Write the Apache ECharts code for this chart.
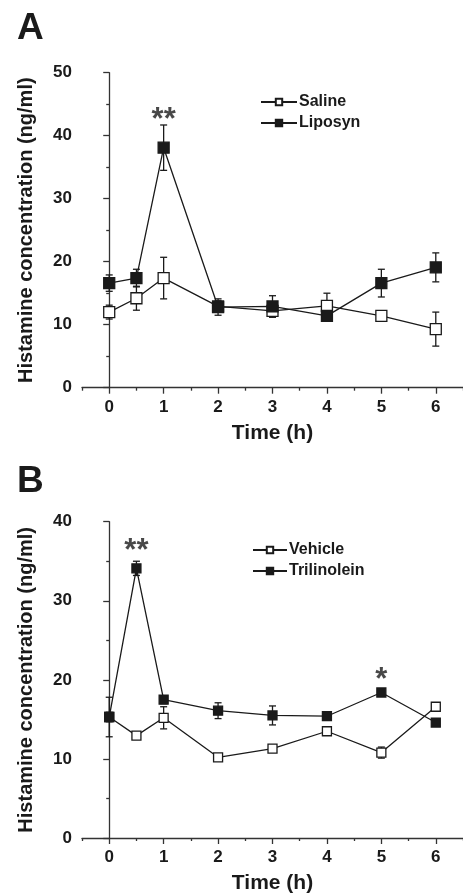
<!DOCTYPE html>
<html>
<head>
<meta charset="utf-8">
<script src="https://cdn.jsdelivr.net/npm/echarts@6/dist/echarts.min.js"></script>
<style>
  html, body { margin: 0; padding: 0; background: #fff; }
  #chart { width: 463px; height: 895px; }
</style>
</head>
<body>
<div id="chart"></div>
<script>
// time points (h)
const times = [0, 0.5, 1, 2, 3, 4, 5, 6]
const majorTicks = [0, 1, 2, 3, 4, 5, 6]
const minorTicks = [-0.5, 0.5, 1.5, 2.5, 3.5, 4.5, 5.5, 6.5]

// panel A
const salineMean = [12.0, 14.2, 17.4, 12.9, 12.2, 13.0, 11.4, 9.3]
const salineErr = [1.1, 1.9, 3.3, 0.9, 1.0, 2.0, 0.5, 2.7]
const liposynMean = [16.6, 17.4, 38.1, 12.8, 12.9, 11.4, 16.6, 19.1]
const liposynErr = [1.3, 1.4, 3.6, 1.3, 1.7, 0.6, 2.2, 2.3]

// panel B
const vehicleMean = [15.3, 12.95, 15.2, 10.2, 11.3, 13.5, 10.8, 16.6]
const vehicleErr = [2.5, 0.3, 1.4, 0.3, 0.3, 0.3, 0.7, 0.2]
const trilinoleinMean = [15.3, 34.1, 17.5, 16.1, 15.5, 15.4, 18.4, 14.6]
const trilinoleinErr = [0.6, 0.9, 0.5, 1.0, 1.2, 0.2, 0.3, 0.2]

// significance marks
const sigAX = [1]
const sigAY = [42.4]
const sigAText = ['**']
const sigBX = [0.5, 5]
const sigBY = [36.3, 19.9]
const sigBText = ['**', '*']

const FONT = '"Liberation Sans", Arial, sans-serif'
const INK = '#1a1a1a'

const pairs = (xs, ys) => xs.map((x, i) => [x, ys[i]])
const errData = (mean, err) => times.map((t, i) => [t, mean[i] - err[i], mean[i] + err[i]])

// 误差棒
const renderErr = (params, api) => {
  const x = api.value(0)
  const lo = api.coord([x, api.value(1)])
  const hi = api.coord([x, api.value(2)])
  const cap = 3.5
  const style = { stroke: INK, lineWidth: 1.3 }
  return {
    type: 'group',
    children: [
      { type: 'line', shape: { x1: lo[0], y1: lo[1], x2: hi[0], y2: hi[1] }, style },
      { type: 'line', shape: { x1: hi[0] - cap, y1: hi[1], x2: hi[0] + cap, y2: hi[1] }, style },
      { type: 'line', shape: { x1: lo[0] - cap, y1: lo[1], x2: lo[0] + cap, y2: lo[1] }, style }
    ]
  }
}

const errSeries = (idx, mean, err) => ({
  type: 'custom',
  xAxisIndex: idx * 2,
  yAxisIndex: idx,
  renderItem: renderErr,
  data: errData(mean, err),
  z: 1,
  silent: true
})

const lineSeries = (idx, name, mean, filled, size) => ({
  name,
  type: 'line',
  xAxisIndex: idx * 2,
  yAxisIndex: idx,
  data: pairs(times, mean),
  symbol: 'rect',
  symbolSize: size,
  showAllSymbol: true,
  lineStyle: { color: INK, width: 1.3 },
  itemStyle: { color: filled ? INK : '#fff', borderColor: INK, borderWidth: 1.3, opacity: 1 },
  z: filled ? 4 : 3,
  animation: false
})

const sigSeries = (idx, xs, ys, texts) => ({
  type: 'scatter',
  xAxisIndex: idx * 2,
  yAxisIndex: idx,
  symbolSize: 0,
  data: xs.map((x, i) => ({ value: [x, ys[i]], label: { formatter: texts[i] } })),
  label: { show: true, position: 'inside', color: INK, fontSize: 31, fontWeight: 'bold', fontFamily: FONT },
  silent: true
})

const grids = [
  { left: 82, top: 72.7, width: 392, height: 315 },
  { left: 82, top: 521.7, width: 392, height: 316.3 }
]

const xMain = (gi) => ({
  type: 'value',
  gridIndex: gi,
  min: -0.5,
  max: 6.5,
  name: 'Time (h)',
  nameLocation: 'middle',
  nameGap: 35,
  nameTextStyle: { color: INK, fontSize: 21, fontWeight: 'bold', fontFamily: FONT },
  axisLine: { show: true, lineStyle: { color: '#333', width: 1.3 } },
  axisTick: { show: true, length: 6, customValues: majorTicks, lineStyle: { color: '#333', width: 1.3 } },
  axisLabel: { customValues: majorTicks, color: INK, fontSize: 17, fontWeight: 'bold', fontFamily: FONT, margin: 11 },
  splitLine: { show: false }
})

const xMinor = (gi) => ({
  type: 'value',
  gridIndex: gi,
  min: -0.5,
  max: 6.5,
  position: 'bottom',
  axisLine: { show: false },
  axisTick: { show: true, length: 3, customValues: minorTicks, lineStyle: { color: '#333', width: 1.3 } },
  axisLabel: { show: false },
  splitLine: { show: false }
})

const yAxis = (gi, max) => ({
  type: 'value',
  gridIndex: gi,
  min: 0,
  max,
  interval: 10,
  name: 'Histamine concentration (ng/ml)',
  nameLocation: 'middle',
  nameRotate: 90,
  nameGap: 46,
  nameTextStyle: { color: INK, fontSize: 20, fontWeight: 'bold', fontFamily: FONT },
  axisLine: { show: true, lineStyle: { color: '#333', width: 1.3 } },
  axisTick: { show: true, length: 6, lineStyle: { color: '#333', width: 1.3 } },
  minorTick: { show: true, splitNumber: 2, length: 3, lineStyle: { color: '#333', width: 1.3 } },
  axisLabel: { color: INK, fontSize: 17, fontWeight: 'bold', fontFamily: FONT, margin: 10 },
  splitLine: { show: false }
})

const legendOpt = (data, left, top, w) => ({
  data,
  orient: 'vertical',
  left,
  top,
  padding: 0,
  itemWidth: w,
  itemHeight: 8,
  itemGap: 5,
  textStyle: { color: INK, fontSize: 16, fontWeight: 'bold', fontFamily: FONT, padding: [0, 0, 0, -3] }
})

const chart = echarts.init(document.getElementById('chart'), null, { renderer: 'canvas' })

chart.setOption({
  animation: false,
  backgroundColor: '#fff',
  title: [
    { text: 'A', left: 17, top: 10, padding: 0, textStyle: { color: INK, fontSize: 37, fontWeight: 'bold', fontFamily: FONT } },
    { text: 'B', left: 17, top: 463, padding: 0, textStyle: { color: INK, fontSize: 37, fontWeight: 'bold', fontFamily: FONT } }
  ],
  legend: [
    legendOpt(['Saline', 'Liposyn'], 260, 94, 36),
    legendOpt(['Vehicle', 'Trilinolein'], 252, 542, 34)
  ],
  grid: grids,
  xAxis: [xMain(0), xMinor(0), xMain(1), xMinor(1)],
  yAxis: [yAxis(0, 50), yAxis(1, 40)],
  series: [
    errSeries(0, salineMean, salineErr),
    errSeries(0, liposynMean, liposynErr),
    lineSeries(0, 'Saline', salineMean, false, 11),
    lineSeries(0, 'Liposyn', liposynMean, true, 11),
    sigSeries(0, sigAX, sigAY, sigAText),
    errSeries(1, vehicleMean, vehicleErr),
    errSeries(1, trilinoleinMean, trilinoleinErr),
    lineSeries(1, 'Vehicle', vehicleMean, false, 9),
    lineSeries(1, 'Trilinolein', trilinoleinMean, true, 9),
    sigSeries(1, sigBX, sigBY, sigBText)
  ]
})
</script>
</body>
</html>
